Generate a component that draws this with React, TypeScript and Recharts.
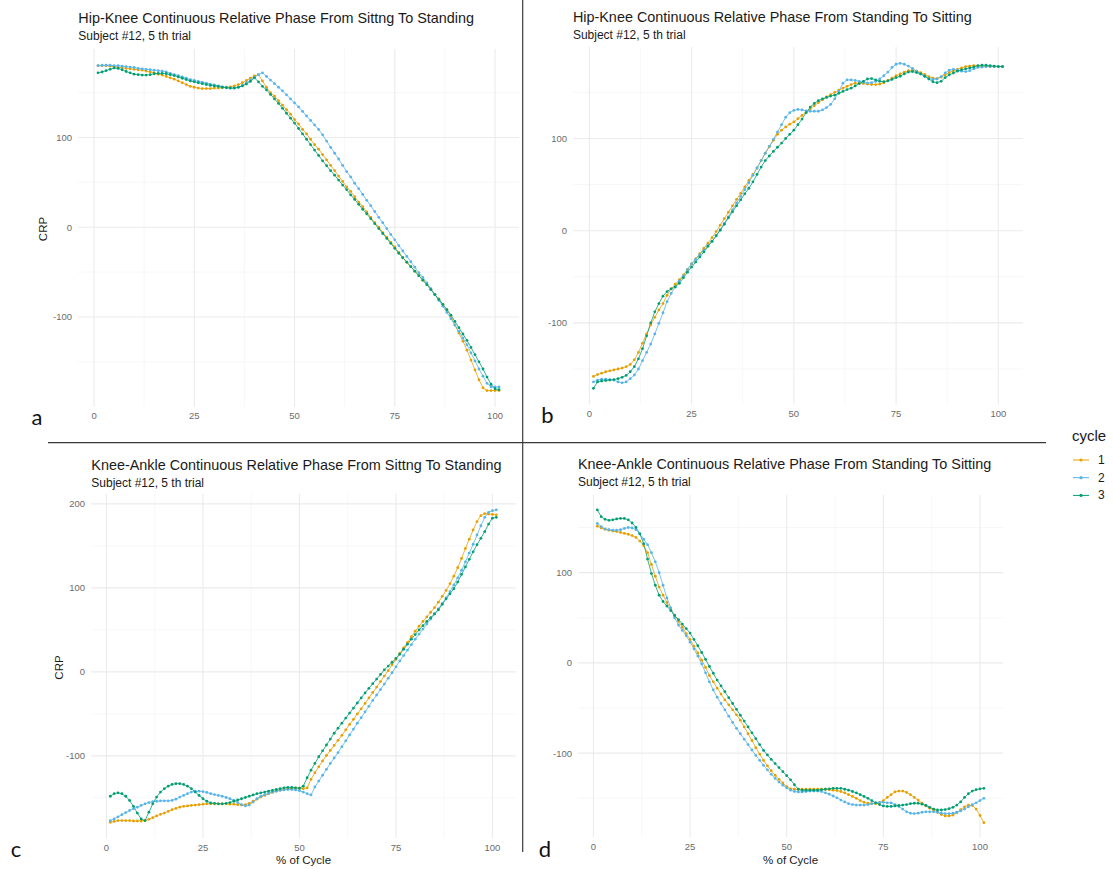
import React from "react"
import { LineChart, Line, XAxis, YAxis, CartesianGrid } from "recharts"

// % of cycle, 1..101
const cyclePct = Array.from({ length: 101 }, (_, i) => i + 1)
const cycles = ["1", "2", "3"]
const cycleColors = ["#E69F00", "#56B4E9", "#009E73"]
const xTicks = [0, 25, 50, 75, 100]
const xMinor = [12.5, 37.5, 62.5, 87.5]
const yMinor = [-150, -50, 50, 150]

// a: hip-knee, sitting to standing
const hkSitStand1 = [
  180, 180, 180, 179.5, 179, 178.5, 178, 177, 176.5, 176,
  175.5, 175, 174, 173, 172, 170.5, 169.5, 168, 166.5, 165,
  163, 161, 159, 157, 156, 155, 154.5, 154.5, 154.5, 155,
  155, 155.5, 156, 156.5, 157.5, 159, 161, 163.5, 166, 168.5,
  170, 163, 156, 150, 146, 141, 136, 131, 126, 120,
  115, 109, 104, 98, 92, 87, 81, 75, 69, 63,
  57, 51, 45, 40, 34, 28, 23, 17, 11, 5,
  0, -6, -11, -17, -22, -28, -34, -39, -44, -49,
  -54, -59, -64, -69, -75, -80, -86, -92, -99, -109,
  -118, -127, -137, -148, -159, -170, -179, -182, -182, -182,
  -182,
]
const hkSitStand2 = [
  180, 180.5, 180.5, 180.5, 180, 180, 179.5, 179, 178.5, 178,
  177, 176.5, 176, 175.5, 175, 174.5, 174, 173, 171.5, 170,
  169, 167.5, 166, 164.5, 163.5, 162.5, 161.5, 160.5, 159.5, 158.5,
  157.5, 156.5, 155.5, 155, 155, 156, 158, 161, 164, 167,
  170, 172, 168, 164, 160, 156, 152, 147.5, 143, 138.5,
  134, 129, 124, 119, 114, 109, 103, 96, 89, 82.5,
  76, 69, 62, 56, 49, 43, 36.5, 30, 24, 17.5,
  11, 5, -1.5, -8, -14, -20.5, -26.5, -32.5, -38.5, -44.5,
  -50.5, -56, -62, -68.5, -75, -81.5, -88, -95, -102, -109,
  -116, -123.5, -131, -140, -149, -158, -166, -174, -178, -178,
  -178,
]
const hkSitStand3 = [
  172, 173, 174.5, 176, 177.5, 177, 175.5, 173.5, 172, 170.5,
  170, 169.5, 169.5, 170, 171, 171.5, 171.5, 171, 170, 169,
  167.5, 166, 164.5, 163, 162, 161, 160, 159, 158, 157.5,
  157, 156, 155.5, 155, 155, 156, 157.5, 159.5, 162.5, 166.5,
  162, 157, 153, 148, 143, 138, 132.5, 127, 121.5, 116,
  110, 104, 98, 92, 86, 80, 74, 68.5, 63, 58,
  52.5, 47, 42, 36, 31, 25.5, 20, 15, 9.5, 4,
  -1.5, -7, -12.5, -18, -23.5, -29, -34, -39, -44, -49,
  -54, -59, -64, -69.5, -75, -80.5, -86, -92, -98, -105,
  -112, -119, -126, -134, -142, -150, -158, -167, -175, -180,
  -181,
]

// b: hip-knee, standing to sitting
const hkStandSit1 = [
  -158, -156, -154.5, -153, -152, -151, -150, -149, -147.5, -145,
  -140, -132, -122, -112, -102, -94, -86, -79, -70, -63,
  -58, -53, -48, -42, -36, -30.5, -25, -19, -13.5, -7.5,
  -1, 6, 13, 20, 27, 34, 40.5, 47.5, 54.5, 61,
  68, 76, 84, 91, 98, 104.5, 109, 112.5, 115.5, 118,
  121.5, 125, 128.5, 132, 135.5, 139, 142, 145, 147.5, 150,
  152.5, 154.5, 156.5, 158.5, 160, 160, 159.5, 159, 158.5, 158.5,
  159, 160.5, 163, 165.5, 168, 170, 172, 173.5, 174, 173,
  171.5, 169.5, 167, 165.5, 165, 166.5, 169, 171.5, 173.5, 175,
  176.5, 178, 178.5, 179, 178.5, 178, 178, 178, 178, 178,
  178,
]
const hkStandSit2 = [
  -164, -162, -161, -161, -161.5, -162, -164, -165, -164, -160.5,
  -156.5, -150, -141, -132, -123, -112, -100.5, -89, -77, -68,
  -61, -54.5, -49, -42, -36, -31, -26, -21, -16, -11.5,
  -5.5, 1, 8, 15, 22.5, 30, 37, 44.5, 52, 60,
  68, 76, 84, 91.5, 99, 107, 115, 123, 128, 130.5,
  131.5, 131, 130, 129.5, 129.5, 129.5, 131, 133.5, 137, 143,
  151, 160, 163.5, 163.5, 163, 162, 161, 160, 160.5, 162,
  164.5, 168, 172, 177, 180.5, 181.5, 180.5, 178.5, 176, 173,
  170, 167.5, 165, 164, 164.5, 167, 171, 174, 175, 174,
  173, 172.5, 173.5, 175.5, 177, 177.5, 178, 178, 178, 178,
  178,
]
const hkStandSit3 = [
  -171, -164, -163, -162.5, -162, -161.5, -160.5, -159, -157, -153,
  -147.5, -139, -128, -114, -100, -88, -79, -71, -66, -63,
  -61, -57, -51, -45, -39.5, -34, -28.5, -23, -17, -11.5,
  -5.5, 0.5, 7, 14, 20.5, 27, 33.5, 40, 46, 53,
  61, 69, 76, 81, 86, 90.5, 95, 100, 104.5, 109,
  115, 121, 128, 134, 138, 141, 143, 144.5, 146, 147,
  149, 151, 153, 154.5, 157, 159.5, 162, 164.5, 165, 163.5,
  162, 161.5, 162.5, 164, 166, 167.5, 170, 172, 172.5, 171.5,
  170, 167.5, 164.5, 161.5, 160.5, 162, 166, 169, 171, 173,
  174.5, 175.5, 176.5, 177.5, 179, 179.5, 179.5, 179, 178.5, 178,
  178,
]

// c: knee-ankle, sitting to standing
const kaSitStand1 = [
  -179, -178, -177, -177, -177, -177, -177.5, -177.5, -177.5, -177,
  -175.5, -173.5, -171.5, -169.5, -168, -166, -164, -162.5, -161, -160,
  -159.5, -159, -158.5, -158, -157.5, -157, -157, -157, -157, -157,
  -157, -157.5, -157.5, -158, -158.5, -158, -156.5, -154, -151.5, -149,
  -147, -145, -143.5, -142, -141, -140, -139, -138.5, -138.5, -138.5,
  -139, -138, -128, -120, -113, -106, -99.5, -93.5, -87.5, -81.5,
  -75.5, -69, -62.5, -56.5, -50, -44, -37.5, -31, -24.5, -18,
  -11.5, -5, 1.5, 8.5, 15, 22, 28.5, 35, 42, 48.5,
  54.5, 60, 65.5, 71, 76.5, 83, 90, 97, 105, 114,
  124, 135, 147, 158, 169, 179, 186, 188.5, 188, 187.5,
  187,
]
const kaSitStand2 = [
  -177, -175, -172.5, -170, -167.5, -165, -163, -161, -159, -157,
  -155.5, -154.5, -154, -153.5, -153.5, -153.5, -153, -151.5, -149, -147,
  -145, -143, -142, -142, -142.5, -143.5, -145, -146, -147, -148,
  -149.5, -151, -153, -155.5, -158, -159.5, -158.5, -155, -151, -148,
  -146, -144.5, -143, -142, -141, -140.5, -140, -140, -140.5, -141.5,
  -143, -145, -146.5, -137, -130, -123, -116, -109, -102.5, -96,
  -89, -82, -75, -68, -61, -54.5, -47.5, -41, -34, -27.5,
  -21, -14.5, -7.5, -1, 6, 13, 19.5, 26, 32.5, 39,
  45, 51, 57, 63, 69, 75, 81.5, 88, 95.5, 103.5,
  112, 121, 131, 141.5, 152, 163, 174, 184, 190, 192,
  193,
]
const kaSitStand3 = [
  -148, -145, -144, -145, -148, -153, -160, -168, -175, -177,
  -167, -157, -149, -143, -139, -136, -134, -133, -133, -134,
  -136, -139, -143, -147, -151, -154, -156, -156.5, -157, -157,
  -156.5, -155.5, -154, -152.5, -151, -149.5, -148, -146.5, -145, -144,
  -143, -142, -141, -140, -139, -138, -137.5, -137.5, -138, -138.5,
  -136, -126, -117, -109, -101, -94, -87, -80, -73, -67,
  -61, -55, -49, -43, -37, -31, -25, -19.5, -14, -8.5,
  -3, 2.5, 7, 11.5, 16, 21, 27, 33, 39, 44.5,
  50, 55, 60, 64.5, 69, 74, 80.5, 87, 93, 99,
  107, 116, 125, 134, 143, 151.5, 159, 167, 176, 183,
  184,
]

// d: knee-ankle, standing to sitting
const kaStandSit1 = [
  151.5, 149.5, 148, 147, 146, 145.5, 144.5, 143.5, 142.5, 141,
  139, 135, 130, 122, 109, 96, 84, 75, 67, 59.5,
  53, 46, 39.5, 32.5, 26, 18.5, 11, 3, -5, -14,
  -21, -28, -34.5, -41, -46.5, -52, -57.5, -63.5, -71, -78.5,
  -86, -94, -101, -108, -114, -119.5, -124.5, -129, -133, -137,
  -139.5, -140, -140, -140, -140, -140, -140, -140, -140, -140,
  -140.5, -141, -141.5, -142.5, -144, -146, -148, -150, -152.5, -154.5,
  -155.5, -156, -156, -155, -152.5, -149, -146, -143, -142, -142,
  -143.5, -146, -149, -152, -155.5, -158.5, -161, -163, -165.5, -168,
  -169.5, -169.5, -168.5, -166, -162.5, -159.5, -157.5, -158, -162, -169,
  -177,
]
const kaStandSit2 = [
  154.5, 151, 148.5, 147.5, 147, 147, 147.5, 149, 150, 149.5,
  147.5, 143, 137, 131, 122, 112, 100, 86, 72, 61,
  50, 42, 36, 30, 23, 15.5, 7.5, -1, -11, -21,
  -30, -38, -45, -52, -59, -66, -72.5, -78.5, -84.5, -90.5,
  -96.5, -102.5, -108, -113.5, -118.5, -123.5, -128, -132, -135.5, -138.5,
  -141, -142.5, -143, -143, -142.5, -142, -142, -142, -142.5, -144,
  -145.5, -147.5, -149.5, -152, -154, -156, -157, -157.5, -157.5, -157.5,
  -157, -156, -155, -154.5, -154.5, -155, -155, -157, -159, -162,
  -165, -166.5, -167, -166.5, -165.5, -165, -165, -165, -165.5, -166.5,
  -167, -167, -166.5, -165.5, -164, -162, -159.5, -157, -155, -152.5,
  -150,
]
const kaStandSit3 = [
  169.5, 162, 159, 158, 158.5, 159.5, 160, 160, 158.5, 155,
  150, 143, 132, 115, 99, 86, 75, 68, 63, 58,
  52.5, 48, 43, 38, 33, 26, 19, 11.5, 4, -4,
  -11.5, -19, -25.5, -32, -38.5, -45, -51.5, -58, -64.5, -71,
  -77.5, -84, -90.5, -97, -102, -107, -111.5, -116, -120.5, -125,
  -129.5, -135, -140, -141, -141, -141, -141, -141, -140.5, -140,
  -139.5, -139, -139, -139, -140, -141, -142.5, -144, -146, -148,
  -150, -152.5, -155, -157, -158.5, -159, -159, -158.5, -158, -157.5,
  -157, -156, -155.5, -155.5, -156.5, -158, -160, -162, -163, -163,
  -162.5, -161.5, -160, -157.5, -154, -149, -145, -142, -140.5, -139.5,
  -139,
]

const subtitle = "Subject #12, 5 th trial"
const Y_W = 40
const X_H = 26
const FONT = "'Liberation Sans', Arial, sans-serif"

const panels = [
  {
    id: "a",
    title: "Hip-Knee Continuous Relative Phase From Sittng To Standing",
    series: [hkSitStand1, hkSitStand2, hkSitStand3],
    x0: 78.3, x1: 519.4, y0: 48.5, y1: 406.2,
    yDomain: [-200, 198.6], yTicks: [-100, 0, 100],
    titleY: 23.3, subY: 40,
    crp: { x: 43, y: 229 }, xLabel: null,
    letter: { x: 37, y: 425 },
  },
  {
    id: "b",
    title: "Hip-Knee Continuous Relative Phase From Standing To Sitting",
    series: [hkStandSit1, hkStandSit2, hkStandSit3],
    x0: 572.9, x1: 1022.8, y0: 47.0, y1: 404.6,
    yDomain: [-188.6, 199.2], yTicks: [-100, 0, 100],
    titleY: 21.7, subY: 39,
    crp: null, xLabel: null,
    letter: { x: 547.5, y: 423 },
  },
  {
    id: "c",
    title: "Knee-Ankle Continuous Relative Phase From Sittng To Standing",
    series: [kaSitStand1, kaSitStand2, kaSitStand3],
    x0: 91.3, x1: 515.9, y0: 494.4, y1: 838.3,
    yDomain: [-197.6, 211.8], yTicks: [-100, 0, 100, 200],
    titleY: 470, subY: 487.3,
    crp: { x: 58.7, y: 667.5 }, xLabel: 860,
    letter: { x: 16, y: 857 },
  },
  {
    id: "d",
    title: "Knee-Ankle Continuous Relative Phase From Standing To Sitting",
    series: [kaStandSit1, kaStandSit2, kaStandSit3],
    x0: 578.0, x1: 1003.2, y0: 494.9, y1: 837.0,
    yDomain: [-193, 186], yTicks: [-100, 0, 100],
    titleY: 469.3, subY: 486,
    crp: null, xLabel: 860,
    letter: { x: 545, y: 857 },
  },
]

function Panel({ p }: { p: any }) {
  const data = cyclePct.map((x, i) => ({
    x,
    c1: p.series[0][i],
    c2: p.series[1][i],
    c3: p.series[2][i],
  }))
  const w = p.x1 - p.x0 + Y_W
  const h = p.y1 - p.y0 + X_H
  const tick = { fontSize: 9.5, fill: "#6b6b6b" }
  return (
    <div style={{ position: "absolute", left: p.x0 - Y_W, top: p.y0 }}>
      <LineChart width={w} height={h} data={data} margin={{ top: 0, right: 0, bottom: 0, left: 0 }}>
        <CartesianGrid stroke="#F1F1F1" strokeWidth={0.6} horizontalValues={yMinor} verticalValues={xMinor} />
        <CartesianGrid stroke="#EBEBEB" strokeWidth={1.1} horizontalValues={p.yTicks} verticalValues={xTicks} />
        <XAxis
          dataKey="x"
          type="number"
          domain={[-4, 106]}
          ticks={xTicks}
          interval={0}
          allowDataOverflow
          axisLine={false}
          tickLine={false}
          tickSize={0}
          tickMargin={6}
          height={X_H}
          tick={tick}
        />
        <YAxis
          type="number"
          domain={p.yDomain}
          ticks={p.yTicks}
          interval={0}
          allowDataOverflow
          axisLine={false}
          tickLine={false}
          tickSize={0}
          tickMargin={6}
          width={Y_W}
          tick={tick}
        />
        {cycles.map((c, k) => (
          <Line
            key={c}
            dataKey={`c${k + 1}`}
            name={c}
            stroke={cycleColors[k]}
            strokeWidth={0.8}
            dot={{ r: 1.4, fill: cycleColors[k], stroke: "none" }}
            isAnimationActive={false}
          />
        ))}
      </LineChart>
    </div>
  )
}

export default function App() {
  return (
    <div style={{ position: "absolute", left: 0, top: 0, width: 1114, height: 869, background: "#fff", fontFamily: FONT }}>
      <svg width={1114} height={869} style={{ position: "absolute", left: 0, top: 0 }}>
        <line x1={522.7} y1={0} x2={522.7} y2={852} stroke="#3a3a3a" strokeWidth={1.2} />
        <line x1={48} y1={442.7} x2={1046} y2={442.7} stroke="#3a3a3a" strokeWidth={1.2} />
        {panels.map((p) => (
          <g key={p.id}>
            <text x={p.x0} y={p.titleY} fontSize={14.4} fill="#1a1a1a">{p.title}</text>
            <text x={p.x0} y={p.subY} fontSize={12} fill="#1a1a1a">{subtitle}</text>
            {p.crp && (
              <text
                x={p.crp.x}
                y={p.crp.y}
                fontSize={11.5}
                fill="#1a1a1a"
                textAnchor="middle"
                dominantBaseline="central"
                transform={`rotate(-90 ${p.crp.x} ${p.crp.y})`}
              >
                CRP
              </text>
            )}
            {p.xLabel && (
              <text x={(p.x0 + p.x1) / 2} y={p.xLabel} fontSize={11.5} fill="#1a1a1a" textAnchor="middle" dominantBaseline="central">
                % of Cycle
              </text>
            )}
            <text x={p.letter.x} y={p.letter.y} fontSize={22} fontFamily="Lato, 'Open Sans', sans-serif" fill="#111" textAnchor="middle">
              {p.id}
            </text>
          </g>
        ))}
        <text x={1072} y={441} fontSize={15} fill="#1a1a1a">cycle</text>
        {cycles.map((c, k) => (
          <g key={c}>
            <line x1={1073} y1={460 + k * 17.7} x2={1089} y2={460 + k * 17.7} stroke={cycleColors[k]} strokeWidth={1} />
            <circle cx={1081} cy={460 + k * 17.7} r={1.6} fill={cycleColors[k]} />
            <text x={1098} y={460 + k * 17.7} fontSize={12} fill="#1a1a1a" dominantBaseline="central">{c}</text>
          </g>
        ))}
      </svg>
      {panels.map((p) => (
        <Panel key={p.id} p={p} />
      ))}
    </div>
  )
}
